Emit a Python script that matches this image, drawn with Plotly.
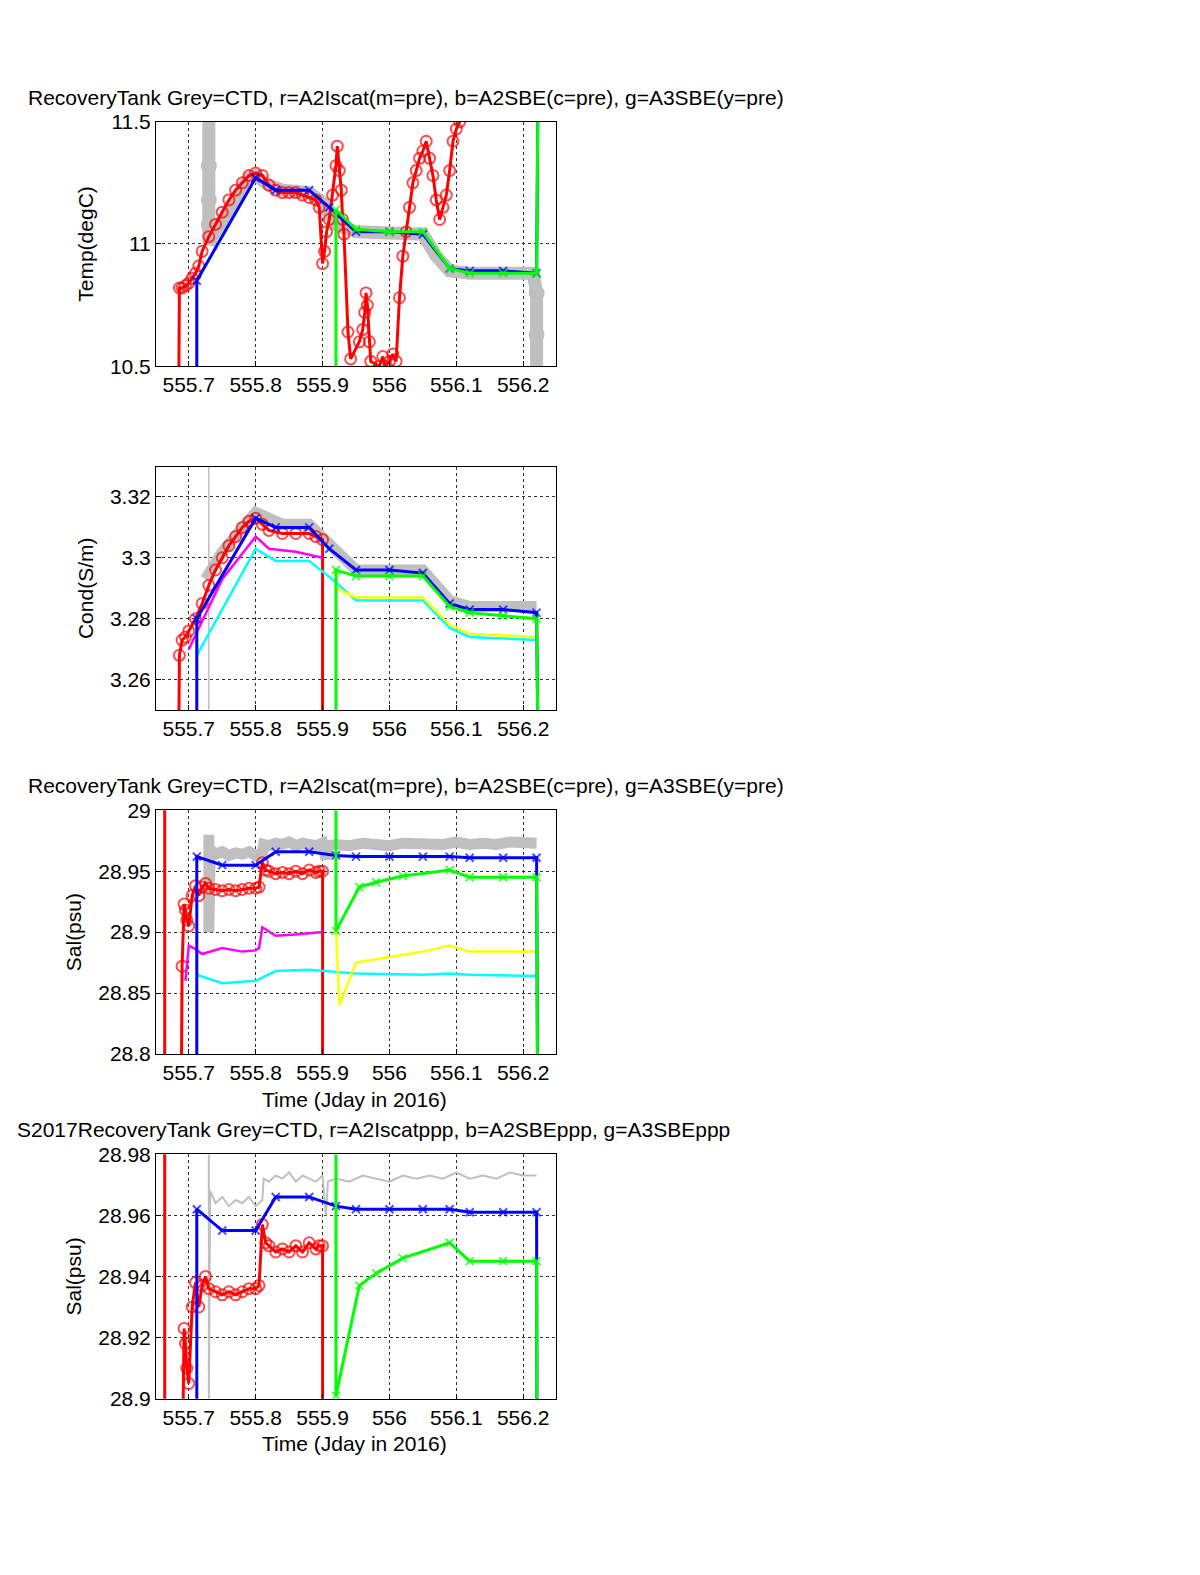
import plotly.graph_objects as go
from plotly.subplots import make_subplots

GREY = "#bfbfbf"

# ---- panel 1 : temperature ----
t_ctd_x = [555.73, 555.73, 555.735, 555.75, 555.77, 555.79, 555.80, 555.82, 555.84, 555.88, 555.90, 555.92,
           555.95, 556.0, 556.05, 556.07, 556.09, 556.12, 556.17, 556.215, 556.22, 556.22]
t_ctd_y = [11.6, 11.0, 11.03, 11.1, 11.2, 11.27, 11.28, 11.24, 11.22, 11.21, 11.17, 11.08,
           11.05, 11.05, 11.04, 10.95, 10.89, 10.88, 10.88, 10.88, 10.8, 10.5]
t_ctd_dot_x = [555.73, 555.73, 555.73, 556.22, 556.22]
t_ctd_dot_y = [11.32, 11.18, 11.08, 10.8, 10.63]

t_red_x = [555.685, 555.686, 555.69, 555.695, 555.70, 555.705, 555.71, 555.715, 555.72, 555.73, 555.74,
           555.75, 555.76, 555.77, 555.78, 555.79, 555.80, 555.81, 555.82, 555.83, 555.84, 555.85, 555.86,
           555.87, 555.88, 555.89, 555.895, 555.90, 555.903, 555.906, 555.91, 555.915, 555.92, 555.922,
           555.925, 555.928, 555.93, 555.932, 555.938, 555.942, 555.955, 555.96, 555.963, 555.965, 555.967,
           555.97, 555.972, 555.985, 555.99, 555.993, 556.0, 556.005, 556.01, 556.015, 556.02, 556.025,
           556.03, 556.035, 556.04, 556.045, 556.05, 556.055, 556.06, 556.065, 556.07, 556.075, 556.08,
           556.085, 556.09, 556.095, 556.1, 556.105, 556.11]
t_red_y = [10.4, 10.82, 10.82, 10.83, 10.84, 10.86, 10.88, 10.91, 10.97, 11.03, 11.08,
           11.13, 11.18, 11.22, 11.25, 11.28, 11.29, 11.28, 11.24, 11.22, 11.21, 11.21, 11.21,
           11.2, 11.19, 11.18, 11.15, 10.92, 10.97, 11.05, 11.1, 11.2, 11.32, 11.4,
           11.3, 11.22, 11.1, 11.04, 10.64, 10.53, 10.6, 10.65, 10.72, 10.8, 10.75,
           10.6, 10.52, 10.5, 10.54, 10.5, 10.52, 10.55, 10.52, 10.78, 10.95, 11.05,
           11.15, 11.25, 11.3, 11.35, 11.38, 11.42, 11.35, 11.28, 11.18, 11.1, 11.15,
           11.2, 11.3, 11.42, 11.47, 11.5, 11.6]

t_blue_x = [555.712, 555.712, 555.80, 555.83, 555.88, 555.91, 555.95, 556.0, 556.05, 556.09, 556.12, 556.17, 556.22, 556.222]
t_blue_y = [10.4, 10.85, 11.27, 11.22, 11.22, 11.15, 11.05, 11.05, 11.04, 10.9, 10.89, 10.89, 10.88, 11.6]
t_green_x = [555.92, 555.92, 555.95, 556.0, 556.05, 556.09, 556.12, 556.17, 556.22, 556.222]
t_green_y = [10.4, 11.14, 11.06, 11.05, 11.05, 10.9, 10.88, 10.88, 10.88, 11.6]

# ---- panel 2 : conductivity ----
c_ctd_x = [555.725, 555.75, 555.8, 555.84, 555.88, 555.92, 555.95, 556.05, 556.09, 556.12, 556.22]
c_ctd_y = [3.293, 3.302, 3.315, 3.311, 3.311, 3.302, 3.296, 3.296, 3.286, 3.284, 3.284]
c_red_x = [555.685, 555.686, 555.69, 555.695, 555.70, 555.71, 555.72, 555.73, 555.74, 555.75, 555.76, 555.77,
           555.78, 555.79, 555.80, 555.81, 555.82, 555.84, 555.86, 555.88, 555.89, 555.90, 555.90]
c_red_y = [3.24, 3.268, 3.273, 3.274, 3.276, 3.28, 3.285, 3.291, 3.296, 3.3, 3.304, 3.307,
           3.31, 3.312, 3.313, 3.311, 3.309, 3.308, 3.308, 3.308, 3.307, 3.306, 3.24]
c_mag_x = [555.70, 555.75, 555.80, 555.82, 555.86, 555.90]
c_mag_y = [3.27, 3.293, 3.307, 3.303, 3.302, 3.3]
c_blue_x = t_blue_x
c_blue_y = [3.24, 3.28, 3.313, 3.31, 3.31, 3.303, 3.296, 3.296, 3.295, 3.285, 3.283, 3.283, 3.282, 3.24]
c_cyan_x = [555.712, 555.80, 555.83, 555.88, 555.92, 555.95, 556.05, 556.09, 556.12, 556.22]
c_cyan_y = [3.268, 3.303, 3.299, 3.299, 3.292, 3.286, 3.286, 3.277, 3.274, 3.273]
c_green_x = t_green_x
c_green_y = [3.24, 3.296, 3.294, 3.294, 3.294, 3.284, 3.282, 3.281, 3.28, 3.24]
c_yel_x = [555.92, 555.95, 556.05, 556.09, 556.12, 556.22]
c_yel_y = [3.29, 3.287, 3.287, 3.278, 3.275, 3.274]

# ---- panels 3/4 : salinity ----
s_ctd_x = [555.73, 555.73, 555.732, 555.74, 555.75, 555.76, 555.77, 555.78, 555.79, 555.80, 555.81, 555.812,
           555.82, 555.83, 555.84, 555.85, 555.86, 555.87, 555.88, 555.89, 555.90, 555.903, 555.905, 555.908,
           555.92, 555.94, 555.96, 555.98, 556.0, 556.02, 556.04, 556.06, 556.08, 556.10, 556.12, 556.14,
           556.16, 556.18, 556.20, 556.22]
s_ctd_y = [28.98, 28.9, 28.968, 28.964, 28.966, 28.963, 28.965, 28.964, 28.966, 28.963, 28.965, 28.972,
           28.971, 28.973, 28.972, 28.974, 28.971, 28.973, 28.972, 28.971, 28.973, 28.966, 28.96, 28.971,
           28.972, 28.971, 28.973, 28.972, 28.971, 28.973, 28.972, 28.973, 28.972, 28.974, 28.972, 28.973,
           28.972, 28.974, 28.973, 28.973]
s_redline_x = [555.664, 555.664]
s_redline_y = [28.7, 29.1]
s_red_x = [555.688, 555.69, 555.693, 555.695, 555.697, 555.70, 555.705, 555.71, 555.715, 555.72, 555.725,
           555.73, 555.74, 555.75, 555.76, 555.77, 555.78, 555.79, 555.80, 555.805, 555.81, 555.815,
           555.82, 555.83, 555.84, 555.85, 555.86, 555.87, 555.88, 555.89, 555.895, 555.90, 555.90]
s_red_y = [28.7, 28.872, 28.923, 28.918, 28.91, 28.905, 28.93, 28.938, 28.93, 28.937, 28.94,
           28.936, 28.935, 28.934, 28.935, 28.934, 28.935, 28.936, 28.936, 28.937, 28.957, 28.951,
           28.95, 28.948, 28.949, 28.948, 28.95, 28.948, 28.951, 28.949, 28.95, 28.95, 28.7]
s_mag_x = [555.695, 555.70, 555.71, 555.72, 555.75, 555.78, 555.80, 555.805, 555.81, 555.83, 555.86, 555.90]
s_mag_y = [28.86, 28.889, 28.886, 28.882, 28.887, 28.884, 28.885, 28.887, 28.904, 28.897, 28.898, 28.9]
s_blue_x = [555.712, 555.712, 555.75, 555.80, 555.83, 555.88, 555.92, 555.95, 556.0, 556.05, 556.09, 556.12, 556.17, 556.22, 556.222]
s_blue_y = [28.7, 28.962, 28.955, 28.955, 28.966, 28.966, 28.963, 28.962, 28.962, 28.962, 28.962, 28.961, 28.961, 28.961, 28.7]
s_cyan_x = [555.712, 555.75, 555.80, 555.83, 555.88, 555.95, 556.05, 556.09, 556.12, 556.22]
s_cyan_y = [28.865, 28.858, 28.86, 28.868, 28.869, 28.866, 28.865, 28.866, 28.865, 28.864]
s_green_x = [555.92, 555.92, 555.955, 555.98, 556.02, 556.09, 556.12, 556.17, 556.22, 556.222]
s_green_y = [29.1, 28.901, 28.937, 28.941, 28.946, 28.951, 28.945, 28.945, 28.945, 28.7]
s_yel_x = [555.92, 555.925, 555.95, 556.05, 556.09, 556.12, 556.22]
s_yel_y = [28.905, 28.84, 28.875, 28.884, 28.889, 28.884, 28.884]

title_a = "RecoveryTank Grey=CTD, r=A2Iscat(m=pre), b=A2SBE(c=pre), g=A3SBE(y=pre)"
title_b = "S2017RecoveryTank Grey=CTD, r=A2Iscatppp, b=A2SBEppp, g=A3SBEppp"

FS = 21

fig = make_subplots(rows=4, cols=1)


def line(x, y, color, width, row, mode="lines", symbol=None, size=None, ends=False):
    marker = None
    if symbol:
        sizes = size
        if ends:  # no marker on the off-scale end points of the vertical segments
            sizes = [0] + [size] * (len(x) - 2) + [0]
        marker = dict(symbol=symbol, size=sizes, color=color, line=dict(color=color, width=2))
    fig.add_trace(go.Scatter(x=x, y=y, mode=mode, line=dict(color=color, width=width),
                             marker=marker, showlegend=False), row=row, col=1)


# panel 1
line(t_ctd_x, t_ctd_y, GREY, 13, 1)
line(t_ctd_dot_x, t_ctd_dot_y, GREY, 0, 1, mode="markers", symbol="circle", size=14)
line(t_red_x, t_red_y, "red", 3, 1, mode="lines+markers", symbol="circle-open", size=11, ends=True)
line(t_blue_x, t_blue_y, "blue", 3, 1, mode="lines+markers", symbol="x-thin-open", size=8, ends=True)
line(t_green_x, t_green_y, "lime", 3, 1, mode="lines+markers", symbol="x-thin-open", size=8, ends=True)

# panel 2
line([555.73, 555.73], [3.24, 3.34], GREY, 1.5, 2)
line(c_ctd_x, c_ctd_y, GREY, 11, 2)
line(c_red_x, c_red_y, "red", 3, 2, mode="lines+markers", symbol="circle-open", size=11, ends=True)
line(c_mag_x, c_mag_y, "magenta", 2.5, 2)
line(c_cyan_x, c_cyan_y, "cyan", 2.5, 2)
line(c_yel_x, c_yel_y, "yellow", 2.5, 2)
line(c_blue_x, c_blue_y, "blue", 3, 2, mode="lines+markers", symbol="x-thin-open", size=8, ends=True)
line(c_green_x, c_green_y, "lime", 3, 2, mode="lines+markers", symbol="x-thin-open", size=8, ends=True)

# panel 3
line(s_ctd_x, s_ctd_y, GREY, 11, 3)
line(s_redline_x, s_redline_y, "red", 3, 3)
line(s_red_x, s_red_y, "red", 3, 3, mode="lines+markers", symbol="circle-open", size=11, ends=True)
line(s_mag_x, s_mag_y, "magenta", 2.5, 3)
line(s_cyan_x, s_cyan_y, "cyan", 2.5, 3)
line(s_yel_x, s_yel_y, "yellow", 2.5, 3)
line(s_blue_x, s_blue_y, "blue", 3, 3, mode="lines+markers", symbol="x-thin-open", size=8, ends=True)
line(s_green_x, s_green_y, "lime", 3, 3, mode="lines+markers", symbol="x-thin-open", size=8, ends=True)

# panel 4
line(s_ctd_x, s_ctd_y, GREY, 2, 4)
line(s_redline_x, s_redline_y, "red", 3, 4)
line(s_red_x, s_red_y, "red", 3, 4, mode="lines+markers", symbol="circle-open", size=11, ends=True)
line(s_blue_x, s_blue_y, "blue", 3, 4, mode="lines+markers", symbol="x-thin-open", size=8, ends=True)
line(s_green_x, s_green_y, "lime", 3, 4, mode="lines+markers", symbol="x-thin-open", size=8, ends=True)

H = 1575.0


def py(p):
    # reference pixel row -> paper y (page is shown with a small offset)
    return 1 - (p - 7.6) / 0.9976 / H


def px(p):
    return (p - 7) / 1200


x_dom = [px(155), px(555)]
panels = [(121, 365, [10.5, 11.5], [10.5, 11, 11.5], ["10.5", "11", "11.5"], "Temp(degC)"),
          (465, 708, [3.25, 3.33], [3.26, 3.28, 3.3, 3.32], ["3.26", "3.28", "3.3", "3.32"], "Cond(S/m)"),
          (808, 1051, [28.8, 29.0], [28.8, 28.85, 28.9, 28.95, 29.0], ["28.8", "28.85", "28.9", "28.95", "29"], "Sal(psu)"),
          (1151, 1395, [28.9, 28.98], [28.9, 28.92, 28.94, 28.96, 28.98], ["28.9", "28.92", "28.94", "28.96", "28.98"], "Sal(psu)")]

xticks = [555.7, 555.8, 555.9, 556.0, 556.1, 556.2]
xlabels = ["555.7", "555.8", "555.9", "556", "556.1", "556.2"]
axstyle = dict(showline=True, mirror=True, linecolor="black", linewidth=1, showgrid=True,
               gridcolor="#333333", griddash="dot", gridwidth=1, ticks="inside", ticklen=5,
               tickcolor="black", zeroline=False, automargin=False,
               tickfont=dict(size=FS, color="black"))

for i, (top, bot, yr, yt, yl, ytitle) in enumerate(panels, start=1):
    fig.update_xaxes(domain=x_dom, range=[555.651, 556.249], tickvals=xticks, ticktext=xlabels,
                     row=i, col=1, **axstyle)
    fig.update_yaxes(domain=[py(bot), py(top)], range=yr, tickvals=yt, ticktext=yl,
                     title=dict(text=ytitle, font=dict(size=FS, color="black"), standoff=10),
                     row=i, col=1, **axstyle)

annotations = [
    dict(text=title_a, x=px(785), y=py(97), xanchor="right"),
    dict(text=title_a, x=px(785), y=py(783), xanchor="right"),
    dict(text=title_b, x=px(731), y=py(1126), xanchor="right"),
    dict(text="Time (Jday in 2016)", x=px(353), y=py(1096), xanchor="center"),
    dict(text="Time (Jday in 2016)", x=px(353), y=py(1440), xanchor="center"),
]
for a in annotations:
    a.update(xref="paper", yref="paper", showarrow=False, yanchor="middle",
             font=dict(size=FS, color="black"))

fig.update_layout(width=1200, height=1575, margin=dict(l=0, r=0, t=0, b=0),
                  paper_bgcolor="white", plot_bgcolor="white",
                  font=dict(family="Liberation Sans, Arial, sans-serif", size=FS, color="black"),
                  annotations=annotations)

fig.write_html("out.html")
